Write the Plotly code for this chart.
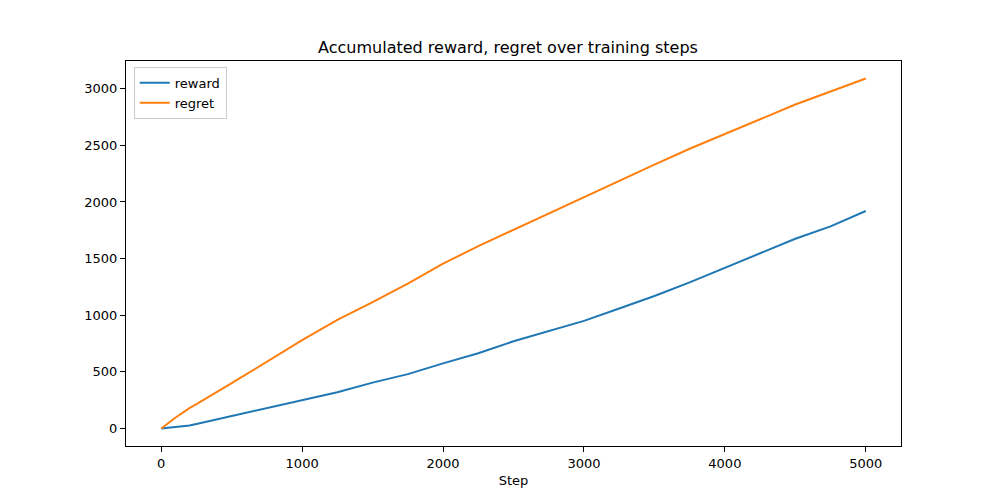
import plotly.graph_objects as go

steps = [0, 100, 200, 250, 500, 750, 1000, 1250, 1500, 1750, 2000, 2250, 2500,
         2750, 3000, 3250, 3500, 3750, 4000, 4250, 4500, 4750, 5000]
reward = [0, 12, 26, 40, 110, 175, 245, 320, 405, 480, 575, 665, 770,
          860, 950, 1060, 1170, 1290, 1420, 1550, 1675, 1785, 1920]
regret = [0, 95, 180, 215, 400, 590, 780, 960, 1115, 1280, 1455, 1610, 1755,
          1900, 2045, 2190, 2330, 2470, 2600, 2730, 2860, 2975, 3090]

font = "DejaVu Sans"

fig = go.Figure()
fig.add_trace(go.Scatter(x=steps, y=reward, mode="lines", name="reward",
                         line=dict(color="#1f77b4", width=2)))
fig.add_trace(go.Scatter(x=steps, y=regret, mode="lines", name="regret",
                         line=dict(color="#ff7f0e", width=2)))

axis = dict(showgrid=False, zeroline=False, showline=True, linecolor="black",
            linewidth=1, mirror=True, ticks="outside", ticklen=5, tickwidth=1,
            tickcolor="black", tickfont=dict(family=font, size=13, color="black"))

fig.update_layout(
    width=1000, height=500,
    margin=dict(l=118, r=107, t=53, b=62),
    paper_bgcolor="white", plot_bgcolor="white",
    title=dict(text="Accumulated reward, regret over training steps",
               x=0.5, xanchor="center", y=0.91, yanchor="bottom",
               font=dict(family=font, size=16, color="black")),
    xaxis=dict(axis, range=[-250, 5250], tickvals=[0, 1000, 2000, 3000, 4000, 5000],
               title=dict(text="Step", standoff=6,
                          font=dict(family=font, size=13, color="black"))),
    yaxis=dict(axis, range=[-154.5, 3244.5],
               tickvals=[0, 500, 1000, 1500, 2000, 2500, 3000]),
    legend=dict(x=0.01, y=0.985, xanchor="left", yanchor="top",
                bgcolor="rgba(255,255,255,0.8)", bordercolor="#cccccc",
                borderwidth=1, font=dict(family=font, size=13, color="black"),
                tracegroupgap=0),
    showlegend=True,
)

fig.write_html("out.html")
